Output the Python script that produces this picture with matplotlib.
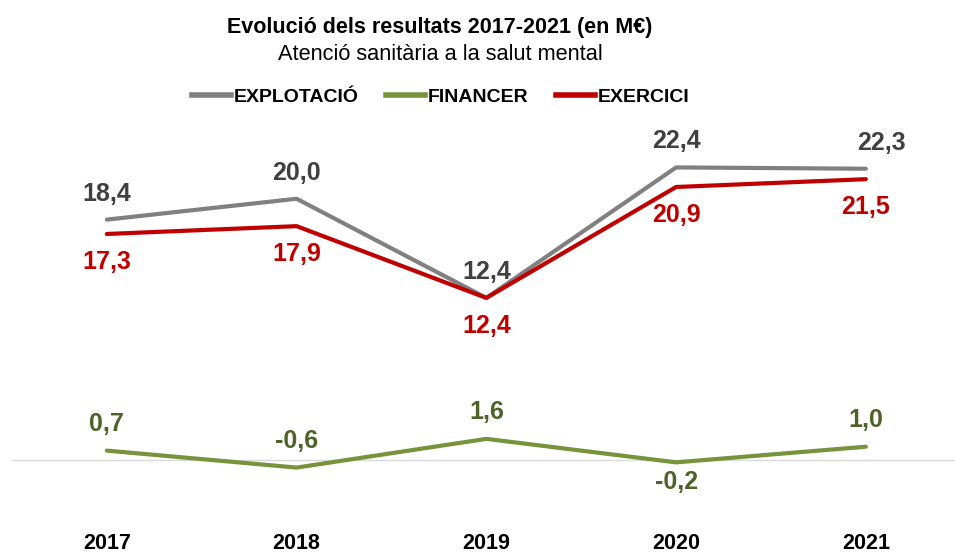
import matplotlib.pyplot as plt
from matplotlib.lines import Line2D

plt.rcParams['font.family'] = ['Liberation Sans', 'DejaVu Sans']

years = ['2017', '2018', '2019', '2020', '2021']
explotacio = [18.4, 20.0, 12.4, 22.4, 22.3]
financer = [0.7, -0.6, 1.6, -0.2, 1.0]
exercici = [17.3, 17.9, 12.4, 20.9, 21.5]

c_gray = '#808080'
c_green = '#77933C'
c_red = '#C00000'

fig = plt.figure(figsize=(9.55, 5.57), dpi=100)
ax = fig.add_axes([12 / 955, 32 / 557, 1 - 12 / 955, 415 / 557])

x = list(range(len(years)))
ax.axhline(0, color='#D9D9D9', lw=1, zorder=1)
ax.plot(x, explotacio, color=c_gray, lw=3, solid_capstyle='round', zorder=3)
ax.plot(x, financer, color=c_green, lw=3, solid_capstyle='round', zorder=3)
ax.plot(x, exercici, color=c_red, lw=3, solid_capstyle='round', zorder=4)

ax.set_xlim(-0.5, 4.47)
ax.set_ylim(-5, 26.8)


def fmt(v):
    return f'{v:.1f}'.replace('.', ',')


lab_kw = dict(ha='center', va='center', fontsize=18, fontweight='bold')
for i, v in enumerate(explotacio):
    dx = 16 if i == 4 else 0
    ax.annotate(fmt(v), (i, v), xytext=(dx, 26), textcoords='offset pixels',
                color='#404040', **lab_kw)
for i, v in enumerate(exercici):
    ax.annotate(fmt(v), (i, v), xytext=(0, -28), textcoords='offset pixels',
                color=c_red, **lab_kw)
for i, v in enumerate(financer):
    off = -20 if i == 3 else 27
    ax.annotate(fmt(v), (i, v), xytext=(0, off), textcoords='offset pixels',
                color='#4F6228', **lab_kw)

ax.set_xticks(x)
ax.set_xticklabels(years, fontsize=15.5, fontweight='bold')
ax.tick_params(axis='x', length=0, pad=6)
ax.set_yticks([])
for s in ax.spines.values():
    s.set_visible(False)

fig.text(440 / 955, 1 - 28 / 557, 'Evolució dels resultats 2017-2021 (en M€)',
         ha='center', va='center', fontsize=15.5, fontweight='bold')
fig.text(440 / 955, 1 - 55 / 557, 'Atenció sanitària a la salut mental',
         ha='center', va='center', fontsize=15.7)

handles = [Line2D([], [], color=c, lw=4) for c in (c_gray, c_green, c_red)]
fig.legend(handles, ['EXPLOTACIÓ', 'FINANCER', 'EXERCICI'], loc='center',
           bbox_to_anchor=(441 / 955, 1 - 97 / 557), ncol=3, frameon=False,
           prop=dict(size=14, weight='bold'), handlelength=2.0, handletextpad=0.15,
           columnspacing=1.4)

fig.savefig('out.png', dpi=100)
